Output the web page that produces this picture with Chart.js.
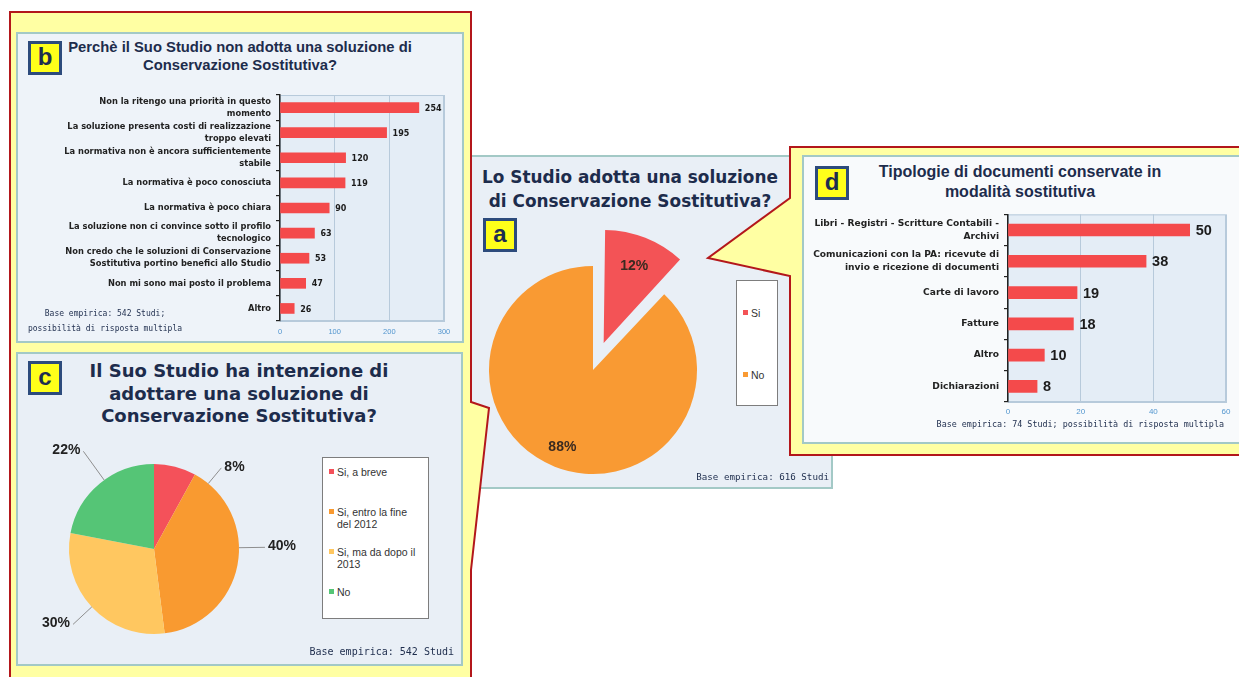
<!DOCTYPE html>
<html>
<head>
<meta charset="utf-8">
<script src="https://cdn.jsdelivr.net/npm/chart.js@4/dist/chart.umd.min.js"></script>
<style>
  body{margin:0;width:1239px;height:677px;overflow:hidden;background:#fff;position:relative;font-family:"Liberation Sans",Arial,sans-serif;}
  .abs{position:absolute}
  .panel{position:absolute;box-sizing:border-box;border:2px solid #A3C9C6;background:#EDF2F8}
  .badge{position:absolute;width:34px;height:34px;box-sizing:border-box;background:#FFFF1A;border:3px solid #2D4B7C;color:#1D2D50;font:bold 24px "Liberation Sans",Arial,sans-serif;text-align:center;line-height:26px}
  .title{position:absolute;color:#1D2C4C;font-weight:bold;text-align:center;white-space:nowrap}
  .wide{font-family:"DejaVu Sans",Verdana,sans-serif}
  .note{position:absolute;font-family:"DejaVu Sans Mono",monospace;color:#1D2C4C;white-space:nowrap}
  .legend{position:absolute;box-sizing:border-box;background:#fff;border:1px solid #7d7d7d;color:#333}
  .legend .item{position:absolute;left:6px;display:flex;align-items:flex-start;font-size:10.5px;line-height:12px}
  .legend .sw{width:5px;height:5px;margin:3px 3px 0 0;flex:none}
  canvas{position:absolute}
</style>
</head>
<body>

<!-- panel a sits behind the two callouts -->
<div class="panel" id="panelA" style="left:458px;top:155px;width:375px;height:334px;background:#E9EFF6"></div>

<svg class="abs" style="left:0;top:0" width="1239" height="677">
  <polygon points="10,12 471,12 471,402 489,408 471,570 471,700 10,700" fill="#FFFFA3" stroke="#B3171B" stroke-width="2"/>
  <polygon points="790,147 1260,147 1260,455 790,455 790,276 708,258 790,198" fill="#FFFFA3" stroke="#B3171B" stroke-width="2"/>
</svg>

<div class="panel" style="left:16px;top:32px;width:448px;height:311px;background:#EEF3F9"></div>
<div class="panel" style="left:16px;top:352px;width:447px;height:314px;background:#E9EFF6"></div>
<div class="panel" style="left:802px;top:155px;width:440px;height:289px;background:#F8FAFC"></div>

<!-- titles + badges -->
<div class="badge" style="left:28px;top:41px">b</div>
<div class="title" style="left:60px;top:38px;width:360px;font-size:14.8px;line-height:18px">Perchè il Suo Studio non adotta una soluzione di<br>Conservazione Sostitutiva?</div>

<div class="badge" style="left:28px;top:361px">c</div>
<div class="title wide" style="left:60px;top:360px;width:358px;font-size:18px;line-height:22.5px">Il Suo Studio ha intenzione di<br>adottare una soluzione di<br>Conservazione Sostitutiva?</div>

<div class="title wide" style="left:480px;top:165px;width:300px;font-size:16.9px;line-height:24px">Lo Studio adotta una soluzione<br>di Conservazione Sostitutiva?</div>
<div class="badge" style="left:483px;top:218px">a</div>

<div class="badge" style="left:815px;top:166px">d</div>
<div class="title" style="left:870px;top:162px;width:300px;font-size:16px;line-height:20px">Tipologie di documenti conservate in<br>modalità sostitutiva</div>

<!-- charts -->
<canvas id="chartB" width="447" height="258" style="left:16px;top:84px"></canvas>
<canvas id="chartC" width="300" height="230" style="left:18px;top:430px"></canvas>
<canvas id="chartA" width="262" height="264" style="left:462px;top:222px"></canvas>
<canvas id="chartD" width="434" height="218" style="left:803px;top:203px"></canvas>

<!-- legends -->
<div class="legend" id="legendA" style="left:736px;top:280px;width:42px;height:126px"></div>
<div class="legend" id="legendC" style="left:322px;top:457px;width:107px;height:162px"></div>

<!-- notes -->
<div class="note" style="left:20px;top:306px;width:170px;text-align:center;font-size:8px;line-height:15px">Base empirica: 542 Studi;<br>possibilità di risposta multipla</div>
<div class="note" style="left:600px;top:471px;width:229px;text-align:right;font-size:9.2px">Base empirica: 616 Studi</div>
<div class="note" style="left:250px;top:646px;width:204px;text-align:right;font-size:10px">Base empirica: 542 Studi</div>
<div class="note" style="left:900px;top:419px;width:324px;text-align:right;font-size:8.4px">Base empirica: 74 Studi; possibilità di risposta multipla</div>

<script>
// ====== DATA ======
const reasonLabels = [
  ['Non la ritengo una priorità in questo', 'momento'],
  ['La soluzione presenta costi di realizzazione', 'troppo elevati'],
  ['La normativa non è ancora sufficientemente', 'stabile'],
  'La normativa è poco conosciuta',
  'La normativa è poco chiara',
  ['La soluzione non ci convince sotto il profilo', 'tecnologico'],
  ['Non credo che le soluzioni di Conservazione', 'Sostitutiva portino benefici allo Studio'],
  'Non mi sono mai posto il problema',
  'Altro'
];
const reasonValues = [254, 195, 120, 119, 90, 63, 53, 47, 26];
const reasonTicks = [0, 100, 200, 300];

const adoptLabels = ['Si', 'No'];
const adoptValues = [12, 88];

const intentLabels = ['Si, a breve', 'Si, entro la fine del 2012', 'Si, ma da dopo il 2013', 'No'];
const intentValues = [8, 40, 30, 22];

const docLabels = [
  ['Libri - Registri - Scritture Contabili -', 'Archivi'],
  ['Comunicazioni con la PA: ricevute di', 'invio e ricezione di documenti'],
  'Carte di lavoro',
  'Fatture',
  'Altro',
  'Dichiarazioni'
];
const docValues = [50, 38, 19, 18, 10, 8];
const docTicks = [0, 20, 40, 60];

// ====== STYLE ======
const FONT = '"Liberation Sans", Arial, sans-serif';
const WIDE = '"DejaVu Sans", Verdana, sans-serif';
const BAR_RED = '#F44A4B';
const adoptColors = ['#F35356', '#F99A33'];
const intentColors = ['#F4515A', '#F99A30', '#FFC760', '#55C576'];
const TICK_BLUE = '#5396CF';
const GRID = '#B7CADB';

Chart.defaults.font.family = FONT;
Chart.defaults.animation = false;
Chart.defaults.plugins.legend.display = false;
Chart.defaults.plugins.tooltip.enabled = false;

const byId = (id) => document.getElementById(id);

// ====== PLUGINS ======
const plotBg = {
  id: 'plotBg',
  beforeDraw(chart, args, opts){
    const { ctx, chartArea: a } = chart;
    ctx.save();
    ctx.fillStyle = opts.color;
    ctx.fillRect(a.left, a.top, a.width, a.height);
    ctx.strokeStyle = opts.border; ctx.lineWidth = 1;
    ctx.strokeRect(a.left + .5, a.top + .5, a.width - 1, a.height - 1);
    ctx.restore();
  }
};

const barValues = {
  id: 'barValues',
  afterDatasetsDraw(chart, args, opts){
    const { ctx } = chart;
    const data = chart.data.datasets[0].data;
    ctx.save();
    ctx.font = `bold ${opts.size}px ${opts.family}`;
    ctx.fillStyle = '#1b1b1b'; ctx.textBaseline = 'middle';
    chart.getDatasetMeta(0).data.forEach((bar, i) => ctx.fillText(data[i], bar.x + opts.gap, bar.y + 1));
    ctx.restore();
  }
};

const innerPct = {
  id: 'innerPct',
  afterDatasetsDraw(chart, args, opts){
    const { ctx } = chart;
    const data = chart.data.datasets[0].data;
    ctx.save();
    ctx.font = `bold ${opts.size}px ${FONT}`;
    ctx.fillStyle = '#3a2a20'; ctx.textAlign = 'center'; ctx.textBaseline = 'middle';
    chart.getDatasetMeta(0).data.forEach((arc, i) => {
      const mid = (arc.startAngle + arc.endAngle) / 2;
      const d = arc.outerRadius * opts.pos + (arc.options.offset || 0) / 4;
      ctx.fillText(data[i] + '%', arc.x + Math.cos(mid) * d, arc.y + Math.sin(mid) * d);
    });
    ctx.restore();
  }
};

// labels outside the pie with a leader line back to the slice
const outerPct = {
  id: 'outerPct',
  afterDatasetsDraw(chart, args, opts){
    const { ctx } = chart;
    const data = chart.data.datasets[0].data;
    ctx.save();
    ctx.font = `bold ${opts.size}px ${FONT}`;
    chart.getDatasetMeta(0).data.forEach((arc, i) => {
      const r = arc.outerRadius;
      const ang = (arc.startAngle + arc.endAngle) / 2 + (opts.shift[i] || 0) * Math.PI / 180;
      const tx = arc.x + Math.cos(ang) * (r + opts.dist[i]);
      const ty = arc.y + Math.sin(ang) * (r + opts.dist[i]);
      const txt = data[i] + '%';
      const w = ctx.measureText(txt).width;
      const side = tx < arc.x ? 1 : -1;
      const ex = tx + side * (w / 2 + 3), ey = ty + 1;
      const a = Math.atan2(ey - arc.y, ex - arc.x);
      ctx.strokeStyle = '#8e8e8e'; ctx.lineWidth = 1;
      ctx.beginPath();
      ctx.moveTo(arc.x + Math.cos(a) * r, arc.y + Math.sin(a) * r);
      ctx.lineTo(ex, ey);
      ctx.stroke();
      ctx.fillStyle = '#222'; ctx.textAlign = 'center'; ctx.textBaseline = 'middle';
      ctx.fillText(txt, tx, ty);
    });
    ctx.restore();
  }
};

// ====== BAR CHART FACTORY ======
function barChart(id, labels, values, ticks, cfg){
  return new Chart(byId(id), {
    type: 'bar',
    data: { labels, datasets: [{ data: values, backgroundColor: BAR_RED, barThickness: cfg.thick }] },
    options: {
      responsive: false,
      indexAxis: 'y',
      layout: { padding: cfg.padding },
      scales: {
        x: {
          min: ticks[0], max: ticks[ticks.length - 1], ticks: { stepSize: ticks[1] - ticks[0], color: TICK_BLUE, font: { size: cfg.tickSize }, padding: cfg.tickPad },
          grid: { color: GRID, drawTicks: false },
          border: { color: GRID },
          afterFit: (axis) => { axis.height = cfg.xHeight; }
        },
        y: {
          ticks: { color: '#222', font: { family: WIDE, size: cfg.labelSize, weight: 'bold', lineHeight: cfg.lineHeight }, padding: 5, autoSkip: false },
          grid: { offset: true, drawOnChartArea: false, color: '#222', tickLength: 4, lineWidth: 1.2 },
          border: { color: '#222', width: 1.5 },
          afterFit: (axis) => { axis.width = cfg.yWidth; }
        }
      },
      plugins: {
        plotBg: { color: '#E4EDF6', border: GRID },
        barValues: { size: cfg.valueSize, gap: cfg.valueGap, family: cfg.valueFamily }
      }
    },
    plugins: [plotBg, barValues]
  });
}

// ====== CHARTS ======
barChart('chartB', reasonLabels, reasonValues, reasonTicks, {
  thick: 10, padding: { top: 7, right: 19, left: 0, bottom: 0 }, xHeight: 21, yWidth: 264,
  tickSize: 7.5, tickPad: 6, labelSize: 8.3, lineHeight: 1.45, valueSize: 8, valueGap: 6, valueFamily: WIDE
});

barChart('chartD', docLabels, docValues, docTicks, {
  thick: 12, padding: { top: 8, right: 11, left: 0, bottom: 0 }, xHeight: 19, yWidth: 205,
  tickSize: 8, tickPad: 5, labelSize: 9.1, lineHeight: 1.4, valueSize: 14.5, valueGap: 6, valueFamily: FONT
});

new Chart(byId('chartA'), {
  type: 'pie',
  data: { labels: adoptLabels, datasets: [{ data: adoptValues, backgroundColor: adoptColors, borderWidth: 0, offset: [116, 0], hoverOffset: 0 }] },
  options: {
    responsive: false,
    radius: 104,
    layout: { padding: { top: 32, bottom: 0, left: 0, right: 0 } },
    plugins: { innerPct: { size: 14, pos: 0.8 } }
  },
  plugins: [innerPct]
});

new Chart(byId('chartC'), {
  type: 'pie',
  data: { labels: intentLabels, datasets: [{ data: intentValues, backgroundColor: intentColors, borderWidth: 0, hoverOffset: 0 }] },
  options: {
    responsive: false,
    radius: 85,
    layout: { padding: { top: 8, bottom: 0, left: 0, right: 28 } },
    plugins: { outerPct: { size: 14, dist: [30, 43, 38, 47], shift: [30, -12, 6, -2] } }
  },
  plugins: [outerPct]
});

// ====== LEGENDS ======
function renderLegend(id, labels, colors, first, step, width){
  const wrap = byId(id);
  labels.forEach((txt, i) => {
    const item = document.createElement('div');
    item.className = 'item';
    item.style.top = (first + i * step) + 'px';
    item.innerHTML = `<span class="sw" style="background:${colors[i]}"></span><span style="width:${width}px">${txt}</span>`;
    wrap.appendChild(item);
  });
}
renderLegend('legendA', adoptLabels, adoptColors, 26, 62, 24);
renderLegend('legendC', intentLabels, intentColors, 8, 40, 84);
</script>
</body>
</html>
